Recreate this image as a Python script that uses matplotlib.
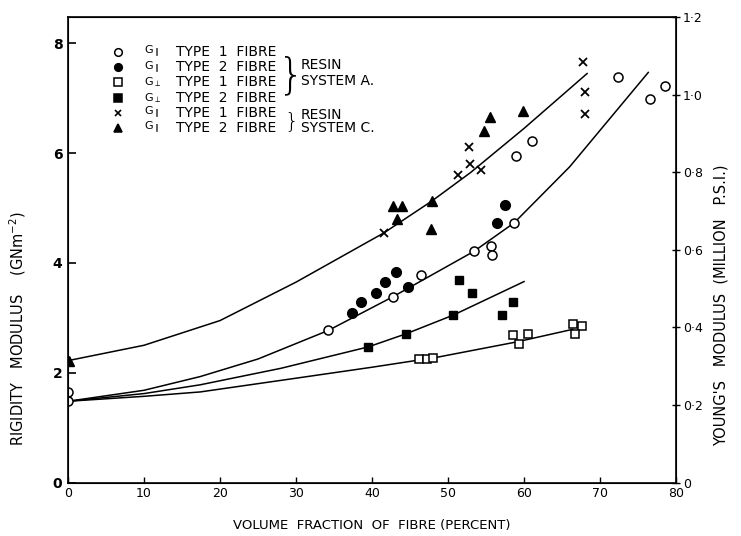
import numpy as np
import matplotlib
matplotlib.use("Agg")
import matplotlib.pyplot as plt

plt.rcParams["font.family"] = ["DejaVu Sans"]
plt.rcParams["mathtext.default"] = "regular"

# G|| type 1 fibre, resin A (open circles)
a1_x = [0, 0, 34.25, 42.7, 46.4, 53.4, 55.7, 55.8, 58.7, 58.9, 61.0, 72.4, 76.6, 78.5]
a1_y = [1.64, 1.48, 2.77, 3.38, 3.78, 4.21, 4.31, 4.15, 4.73, 5.95, 6.22, 7.38, 6.98, 7.23]
# G|| type 2 fibre, resin A (filled circles)
a2_x = [37.4, 38.6, 40.5, 41.75, 43.2, 44.8, 56.5, 57.5]
a2_y = [3.08, 3.28, 3.46, 3.65, 3.84, 3.57, 4.73, 5.06]
# G-perp type 1 fibre (open squares)
p1_x = [46.2, 47.2, 48.0, 58.5, 60.5, 59.4, 66.4, 67.6, 66.75]
p1_y = [2.25, 2.25, 2.26, 2.69, 2.70, 2.53, 2.88, 2.86, 2.71]
# G-perp type 2 fibre (filled squares)
p2_x = [39.5, 44.5, 50.7, 51.5, 53.1, 58.6, 57.1]
p2_y = [2.47, 2.71, 3.05, 3.68, 3.46, 3.28, 3.06]
# G|| type 1 fibre, resin C (crosses)
c1_x = [67.7, 68.0, 68.0, 52.8, 52.9, 54.4, 51.3, 41.6]
c1_y = [7.66, 7.11, 6.71, 6.11, 5.81, 5.69, 5.61, 4.55]
# G|| type 2 fibre, resin C (triangles)
c2_x = [0.1, 59.9, 55.5, 54.8, 47.9, 42.7, 44.0, 43.3, 47.8]
c2_y = [2.22, 6.77, 6.65, 6.41, 5.13, 5.04, 5.04, 4.80, 4.62]

# fitted curves
curve_c_x = [0, 10, 20, 30, 41.6, 47.9, 53, 60, 68.3]
curve_c_y = [2.22, 2.5, 2.95, 3.65, 4.55, 5.13, 5.65, 6.45, 7.45]
curve_a_x = [0, 10, 17.4, 25, 34.25, 42.7, 53.4, 58.7, 66, 76.35]
curve_a_y = [1.48, 1.68, 1.93, 2.25, 2.77, 3.38, 4.21, 4.73, 5.75, 7.47]
curve_p2_x = [0, 10, 17.4, 28, 39.5, 44.5, 50.7, 60]
curve_p2_y = [1.48, 1.62, 1.78, 2.08, 2.47, 2.71, 3.05, 3.66]
curve_p1_x = [0, 10, 17.4, 30, 40, 48.5, 59, 66.4]
curve_p1_y = [1.48, 1.57, 1.65, 1.9, 2.1, 2.28, 2.56, 2.79]

x_ticks = [0, 10, 20, 30, 40, 50, 60, 70, 80]
y_ticks = [0, 2, 4, 6, 8]
r_ticks = [0, 0.2, 0.4, 0.6, 0.8, 1.0, 1.2]
r_labels = ["0", "0·2", "0·4", "0·6", "0·8", "1·0", "1·2"]

fig = plt.figure(figsize=(7.41, 5.36), dpi=100)
ax = fig.add_axes([0.0918, 0.0998, 0.8205, 0.8685])

for cx, cy in [(curve_c_x, curve_c_y), (curve_a_x, curve_a_y),
               (curve_p2_x, curve_p2_y), (curve_p1_x, curve_p1_y)]:
    ax.plot(cx, cy, color="black", lw=1.1, zorder=2)

ax.plot(a1_x, a1_y, "o", ms=6.5, mfc="white", mec="black", mew=1.1, ls="none", zorder=3)
ax.plot(a2_x, a2_y, "o", ms=7, mfc="black", mec="black", ls="none", zorder=3)
ax.plot(p1_x, p1_y, "s", ms=6, mfc="white", mec="black", mew=1.1, ls="none", zorder=3)
ax.plot(p2_x, p2_y, "s", ms=6, mfc="black", mec="black", ls="none", zorder=3)
ax.plot(c1_x, c1_y, "x", ms=6, color="black", mew=1.3, ls="none", zorder=3)
ax.plot(c2_x, c2_y, "^", ms=7, color="black", ls="none", zorder=3)

ax.set_xlim(0, 80)
ax.set_ylim(0, 8.48)
ax.set_xticks(x_ticks)
ax.set_xticklabels([str(v) for v in x_ticks], fontsize=9)
ax.set_yticks(y_ticks)
ax.set_yticklabels([str(v) for v in y_ticks], fontsize=10, fontweight="bold")
ax.tick_params(axis="x", direction="in", length=4, width=1, pad=3)
ax.tick_params(axis="y", direction="in", length=6, width=1.2, pad=4)
for sp in ax.spines.values():
    sp.set_linewidth(1.2)

ax2 = ax.twinx()
ax2.set_ylim(0, 1.2)
ax2.set_yticks(r_ticks)
ax2.set_yticklabels(r_labels, fontsize=9)
ax2.tick_params(axis="y", direction="inout", length=6, width=1, pad=2)

ax.set_xlabel("VOLUME  FRACTION  OF  FIBRE (PERCENT)", fontsize=9.5, labelpad=14)
ax.set_ylabel("RIGIDITY   MODULUS    (GNm$^{-2}$)", fontsize=10.5)
ax.yaxis.set_label_coords(-0.066, 0.33)
ax2.set_ylabel("YOUNG'S   MODULUS  (MILLION   P.S.I.)", fontsize=10.5)
ax2.yaxis.set_label_coords(1.062, 0.38)

# legend drawn as text rows
rows = [
    ("o", "white", "G$_{\\parallel}$", "TYPE  1  FIBRE"),
    ("o", "black", "G$_{\\parallel}$", "TYPE  2  FIBRE"),
    ("s", "white", "G$_{\\perp}$", "TYPE  1  FIBRE"),
    ("s", "black", "G$_{\\perp}$", "TYPE  2  FIBRE"),
    ("x", "black", "G$_{\\parallel}$", "TYPE  1  FIBRE"),
    ("^", "black", "G$_{\\parallel}$", "TYPE  2  FIBRE"),
]
row_y = [7.84, 7.56, 7.29, 7.01, 6.74, 6.46]
for (m, fc, g, t), yy in zip(rows, row_y):
    if m == "x":
        ax.plot([6.6], [yy], m, ms=5, color="black", mew=1.2, clip_on=False)
    else:
        ax.plot([6.6], [yy], m, ms=5.5, mfc=fc, mec="black", mew=1.1, clip_on=False)
    ax.text(10.0, yy, g, fontsize=8, va="center", ha="left")
    ax.text(14.2, yy, t, fontsize=10, va="center", ha="left")

ax.text(29.4, 7.40, "}", fontsize=30, va="center", ha="center", fontweight="light")
ax.text(30.6, 7.60, "RESIN", fontsize=10, va="center", ha="left")
ax.text(30.6, 7.31, "SYSTEM A.", fontsize=10, va="center", ha="left")
ax.text(29.4, 6.58, "}", fontsize=16, va="center", ha="center", fontweight="light")
ax.text(30.6, 6.69, "RESIN", fontsize=10, va="center", ha="left")
ax.text(30.6, 6.46, "SYSTEM C.", fontsize=10, va="center", ha="left")

fig.savefig("out.png", dpi=100, facecolor="white")
